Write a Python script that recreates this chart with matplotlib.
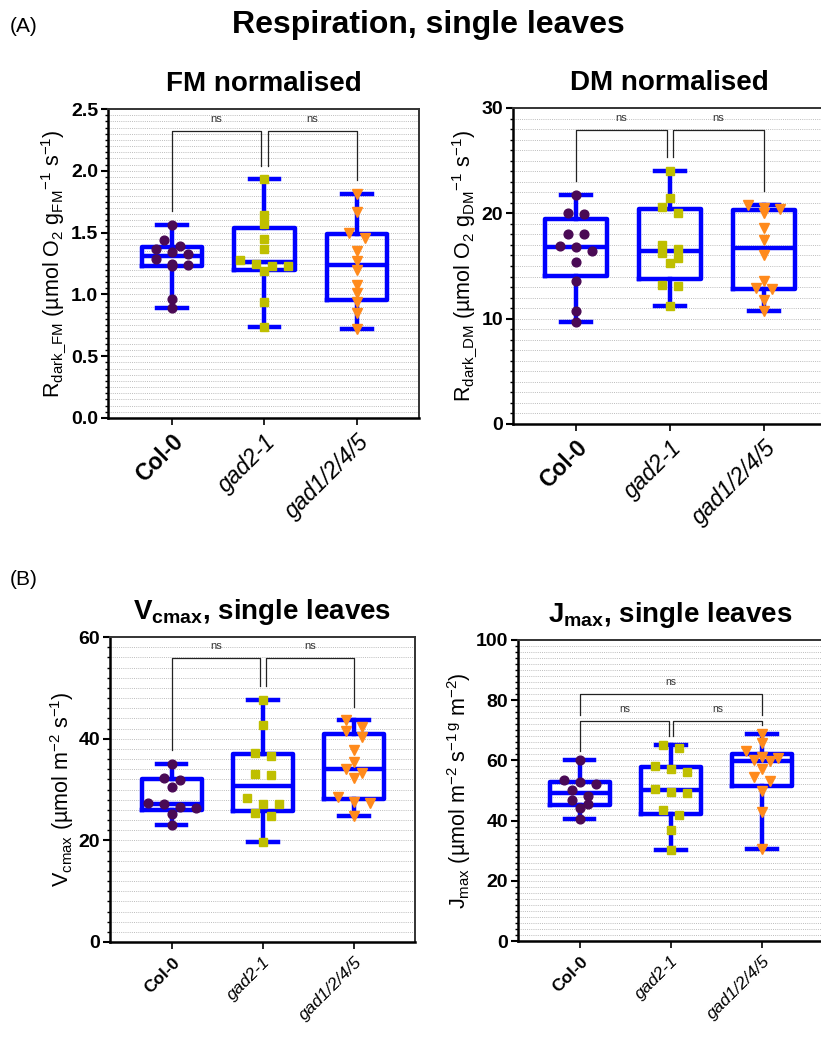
import numpy as np
import matplotlib
matplotlib.use("Agg")
import matplotlib.pyplot as plt
from matplotlib.ticker import AutoMinorLocator, MultipleLocator, FormatStrFormatter

plt.rcParams["font.family"] = ["Liberation Sans", "DejaVu Sans"]
plt.rcParams["mathtext.fontset"] = "custom"
plt.rcParams["mathtext.rm"] = "Liberation Sans"
plt.rcParams["mathtext.it"] = "Liberation Sans:italic"
plt.rcParams["mathtext.bf"] = "Liberation Sans:bold"

# ---- data -------------------------------------------------------------
genotypes = ["Col-0", "gad2-1", "gad1/2/4/5"]

fm_col0 = [1.56, 1.44, 1.39, 1.33, 1.37, 1.34, 1.29, 1.24, 1.23, 1.25, 0.96, 0.89]
fm_gad21 = [1.93, 1.64, 1.57, 1.45, 1.37, 1.28, 1.25, 1.23, 1.23, 1.19, 0.94, 0.74]
fm_gadq = [1.81, 1.67, 1.50, 1.46, 1.35, 1.27, 1.20, 1.08, 1.01, 0.94, 0.85, 0.72]

dm_col0 = [21.7, 19.9, 20.0, 18.0, 18.0, 16.9, 16.4, 16.8, 15.4, 13.6, 10.7, 9.7]
dm_gad21 = [24.0, 21.5, 20.6, 20.0, 17.0, 15.8, 16.6, 16.2, 15.3, 13.2, 13.1, 11.2]
dm_gadq = [20.8, 20.4, 20.5, 20.0, 18.6, 17.5, 16.0, 13.6, 12.8, 12.9, 11.8, 10.7]

vc_col0 = [35.0, 31.9, 32.2, 30.4, 27.3, 27.1, 26.3, 26.6, 25.1, 23.0]
vc_gad21 = [47.6, 42.6, 37.1, 36.6, 32.9, 33.1, 28.3, 27.1, 27.1, 24.8, 25.3, 19.6]
vc_gadq = [43.6, 41.6, 42.3, 40.3, 37.8, 35.5, 33.2, 34.0, 32.2, 28.6, 27.4, 27.6, 24.8]

jm_col0 = [60.1, 53.5, 52.2, 52.7, 50.3, 48.3, 47.0, 45.5, 44.1, 40.6]
jm_gad21 = [65.0, 64.1, 58.2, 57.2, 56.0, 49.5, 50.6, 49.2, 43.4, 41.8, 37.0, 30.2]
jm_gadq = [68.7, 65.7, 63.0, 60.0, 59.7, 60.8, 61.1, 57.2, 54.5, 53.3, 49.7, 42.8, 30.4]

# ---- styles -----------------------------------------------------------
BOX_BLUE = "#0000FF"
group_styles = [
    dict(marker="o", color="#4A0A55", ms=6.3),
    dict(marker="s", color="#BFBF00", ms=5.8),
    dict(marker="v", color="#FF8A1C", ms=6.6),
]

fig = plt.figure(figsize=(8.21, 10.37), dpi=100)
W, H = 821.0, 1037.0


def add_axes_px(x0, y_top, x1, y_bottom):
    return fig.add_axes([x0 / W, 1 - y_bottom / H, (x1 - x0) / W, (y_bottom - y_top) / H])


def box_stats(vals):
    v = np.asarray(vals, float)
    q1, med, q3 = np.percentile(v, [25, 50, 75], method="weibull")
    return dict(med=med, q1=q1, q3=q3, whislo=v.min(), whishi=v.max(), fliers=[])


def row_scatter(ax, x0, vals, row_px=7.0, spacing_px=16.0):
    """Group points into horizontal rows (in screen pixels) and centre each row."""
    tr = ax.transData
    v = np.asarray(vals, float)
    ypx = np.array([tr.transform((x0, val))[1] for val in v])
    px_per_unit = tr.transform((1, 0))[0] - tr.transform((0, 0))[0]
    order = np.argsort(-v)
    offs = np.zeros(len(v))
    rows, current, start = [], [], None
    for i in order:
        if current and start - ypx[i] > row_px:
            rows.append(current)
            current = []
        if not current:
            start = ypx[i]
        current.append(i)
    rows.append(current)
    for row in rows:
        k = len(row)
        for j, i in enumerate(row):
            offs[i] = (j - (k - 1) / 2) * spacing_px
    return x0 + offs / px_per_unit


def bracket(ax, x1, x2, y, y1, y2, fs=8):
    ax.plot([x1, x1, x2, x2], [y1, y, y, y2], color="#222222", lw=0.9, zorder=2)
    ax.annotate("ns", xy=((x1 + x2) / 2, y), xytext=(0, 5), textcoords="offset points",
                ha="center", va="bottom", fontsize=fs, color="#333333")


def panel(ax, groups, ymax, major, xlim, ylabel, title, tick_fs, xtick_fs, fmt):
    ax.set_xlim(*xlim)
    ax.set_ylim(0, ymax)
    ax.yaxis.set_major_locator(MultipleLocator(major))
    ax.yaxis.set_minor_locator(AutoMinorLocator(10))
    ax.yaxis.set_major_formatter(FormatStrFormatter(fmt))
    ax.grid(axis="y", which="both", linestyle=(0, (1, 1.2)), color="#bdbdbd", lw=0.7, zorder=0)
    ax.set_axisbelow(True)

    for s in ("left", "bottom"):
        ax.spines[s].set_linewidth(1.8)
        ax.spines[s].set_color("black")
    for s in ("top", "right"):
        ax.spines[s].set_linewidth(1.4)
        ax.spines[s].set_color("#333333")

    ax.tick_params(axis="y", which="major", length=5, width=1.5, labelsize=tick_fs, pad=2)
    ax.tick_params(axis="y", which="minor", length=2.5, width=1.0)
    ax.tick_params(axis="x", which="major", length=5, width=1.2, pad=4)
    for lab in ax.get_yticklabels():
        lab.set_fontweight("bold")

    positions = list(range(len(groups)))
    ax.bxp([box_stats(g) for g in groups], positions=positions, widths=0.65,
           capwidths=0.32, showfliers=False, manage_ticks=False,
           boxprops=dict(color=BOX_BLUE, lw=3.2),
           medianprops=dict(color=BOX_BLUE, lw=3.2),
           whiskerprops=dict(color=BOX_BLUE, lw=3.2),
           capprops=dict(color=BOX_BLUE, lw=3.2), zorder=3)

    for x0, vals, st in zip(positions, groups, group_styles):
        xs = row_scatter(ax, x0, vals)
        ax.plot(xs, vals, linestyle="none", marker=st["marker"], ms=st["ms"],
                color=st["color"], mec=st["color"], zorder=4)

    ax.set_xticks(positions)
    ax.set_xticklabels(genotypes)
    for i, lab in enumerate(ax.get_xticklabels()):
        lab.set_rotation(45)
        lab.set_ha("right")
        lab.set_rotation_mode("anchor")
        lab.set_fontsize(xtick_fs)
        if i == 0:
            lab.set_fontweight("bold")
        else:
            lab.set_fontstyle("italic")

    ax.set_ylabel(ylabel, fontsize=15.5, labelpad=2)
    ax.set_title(title, fontsize=20, fontweight="bold", pad=13)


xlim_std = (-0.68, 2.67)

# (A) respiration
axA1 = add_axes_px(108, 109, 419, 418)
fm_groups = [fm_col0, fm_gad21, fm_gadq]
panel(axA1, fm_groups, 2.5, 0.5, (-0.69, 2.67),
      r"$\mathregular{R_{dark\_FM}\ (µmol\ O_2\ g_{FM}{}^{-1}\ s^{-1})}$",
      "FM normalised", 14, 16.5, "%.1f")

axA2 = add_axes_px(513, 108, 826, 424)
dm_groups = [dm_col0, dm_gad21, dm_gadq]
panel(axA2, dm_groups, 30, 10, (-0.67, 2.66),
      r"$\mathregular{R_{dark\_DM}\ (µmol\ O_2\ g_{DM}{}^{-1}\ s^{-1})}$",
      "DM normalised", 14, 16.5, "%d")

# (B) photosynthetic capacity
axB1 = add_axes_px(110, 637, 415, 942)
vc_groups = [vc_col0, vc_gad21, vc_gadq]
panel(axB1, vc_groups, 60, 20, xlim_std,
      r"$\mathregular{V_{cmax}\ (µmol\ m^{-2}\ s^{-1})}$",
      r"$\mathbf{V_{cmax}}$, single leaves", 14, 12.5, "%d")

axB2 = add_axes_px(518, 640, 823, 941)
jm_groups = [jm_col0, jm_gad21, jm_gadq]
panel(axB2, jm_groups, 100, 20, xlim_std,
      r"$\mathregular{J_{max}\ (µmol\ m^{-2}\ s^{-1\,g}\ m^{-2})}$",
      r"$\mathbf{J_{max}}$, single leaves", 14, 12.5, "%d")

# significance brackets
off = 0.035
for ax, groups, ymax in ((axA1, fm_groups, 2.5), (axA2, dm_groups, 30), (axB1, vc_groups, 60)):
    top = 0.93 * ymax
    gap = 0.045 * ymax
    m = [max(g) + gap for g in groups]
    bracket(ax, 0, 1 - off, top, m[0], m[1])
    bracket(ax, 1 + off, 2, top, m[1], m[2])

top_lo, top_hi = 73.0, 82.0
m = [max(g) + 3.0 for g in jm_groups]
bracket(axB2, 0, 1 - off * 0.6, top_lo, m[0], m[1], fs=7.5)
bracket(axB2, 1 + off * 0.6, 2, top_lo, m[1], m[2], fs=7.5)
bracket(axB2, 0, 2, top_hi, top_lo + 2.2, top_lo + 2.2, fs=7.5)

fig.text(0.522, 0.976, "Respiration, single leaves", ha="center", va="center",
         fontsize=23, fontweight="bold")
fig.text(0.012, 0.974, "(A)", ha="left", va="center", fontsize=15)
fig.text(0.012, 0.441, "(B)", ha="left", va="center", fontsize=15)

fig.savefig("out.png", dpi=100)
